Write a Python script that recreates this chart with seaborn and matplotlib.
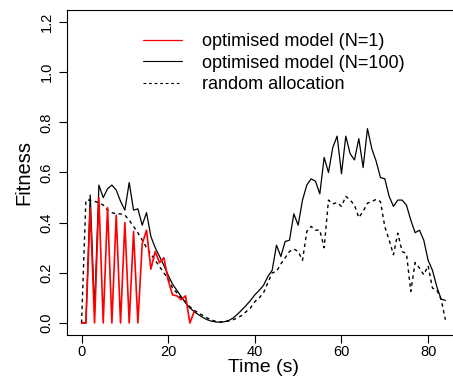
import numpy as np
import pandas as pd
import matplotlib
matplotlib.use("Agg")
import matplotlib.pyplot as plt
import seaborn as sns
from matplotlib.lines import Line2D

# Datos (paso de 1 s)
time_opt1 = list(range(0, 27))
fitness_opt1 = [0.0, 0.0, 0.46, 0.0, 0.50, 0.0, 0.46, 0.0, 0.43, 0.0, 0.40, 0.0,
                0.365, 0.0, 0.315, 0.37, 0.215, 0.285, 0.24, 0.26, 0.17, 0.112,
                0.108, 0.093, 0.108, 0.0, 0.045]

time_all = list(range(0, 85))
fitness_opt100 = [0.0, 0.0, 0.51, 0.05, 0.55, 0.50, 0.535, 0.55, 0.53, 0.485,
                  0.45, 0.56, 0.45, 0.455, 0.39, 0.44, 0.345, 0.30, 0.265, 0.23,
                  0.19, 0.155, 0.13, 0.105, 0.08, 0.06, 0.045, 0.033, 0.022, 0.013,
                  0.007, 0.004, 0.003, 0.005, 0.01, 0.02, 0.035, 0.052, 0.07, 0.09,
                  0.112, 0.13, 0.15, 0.185, 0.21, 0.31, 0.265, 0.325, 0.33, 0.435,
                  0.39, 0.49, 0.55, 0.575, 0.565, 0.515, 0.66, 0.60, 0.70, 0.745,
                  0.595, 0.745, 0.675, 0.65, 0.735, 0.62, 0.775, 0.695, 0.645, 0.58,
                  0.575, 0.505, 0.465, 0.49, 0.49, 0.47, 0.41, 0.36, 0.37, 0.33,
                  0.25, 0.21, 0.145, 0.095, 0.09]
fitness_random = [0.0, 0.49, 0.49, 0.485, 0.48, 0.47, 0.45, 0.44, 0.435, 0.435,
                  0.43, 0.41, 0.385, 0.36, 0.33, 0.30, 0.275, 0.25, 0.225, 0.20,
                  0.175, 0.14, 0.12, 0.10, 0.085, 0.065, 0.05, 0.04, 0.03, 0.02,
                  0.012, 0.006, 0.004, 0.005, 0.008, 0.013, 0.02, 0.03, 0.045, 0.06,
                  0.085, 0.10, 0.12, 0.16, 0.20, 0.205, 0.235, 0.26, 0.285, 0.295,
                  0.285, 0.25, 0.365, 0.385, 0.37, 0.37, 0.30, 0.49, 0.475, 0.48,
                  0.465, 0.505, 0.49, 0.47, 0.42, 0.445, 0.478, 0.484, 0.493, 0.484,
                  0.384, 0.331, 0.272, 0.358, 0.285, 0.276, 0.126, 0.241, 0.219, 0.192,
                  0.228, 0.139, 0.132, 0.093, 0.013]

labels = ['optimised model (N=1)', 'optimised model (N=100)', 'random allocation']
xticks = [0, 20, 40, 60, 80]
yticks = [0.0, 0.2, 0.4, 0.6, 0.8, 1.0, 1.2]

sns.set_style("ticks")
plt.rcParams['font.family'] = ['Liberation Sans', 'DejaVu Sans']
plt.rcParams.update({'text.color': 'black', 'axes.labelcolor': 'black',
                     'xtick.color': 'black', 'ytick.color': 'black'})

fig = plt.figure(figsize=(4.53, 3.76), dpi=100)
ax = fig.add_axes([67 / 453, 1 - 335 / 376, 393 / 453, 325 / 376])

df_rand = pd.DataFrame({'t': time_all, 'f': fitness_random})
df_100 = pd.DataFrame({'t': time_all, 'f': fitness_opt100})
df_1 = pd.DataFrame({'t': time_opt1, 'f': fitness_opt1})

sns.lineplot(data=df_rand, x='t', y='f', ax=ax, color='black', linewidth=1.0,
             linestyle=(0, (2.5, 2.5)))
sns.lineplot(data=df_100, x='t', y='f', ax=ax, color='black', linewidth=0.9)
sns.lineplot(data=df_1, x='t', y='f', ax=ax, color='#ff0000', linewidth=1.2)

ax.set_xlim(-3.36, 87.36)
ax.set_ylim(-0.048, 1.248)
ax.set_xticks(xticks)
ax.set_xticklabels([str(v) for v in xticks])
ax.set_yticks(yticks)
ax.set_yticklabels([f"{v:.1f}" for v in yticks], rotation=90, va='center')
ax.tick_params(axis='both', direction='out', length=5.5, width=0.8,
               labelsize=10.5, colors='black')
ax.tick_params(axis='x', pad=1.5)
ax.tick_params(axis='y', pad=4)
for sp in ax.spines.values():
    sp.set_linewidth(0.8)
    sp.set_color('black')

ax.set_xlabel('Time (s)', fontsize=14)
ax.set_ylabel('Fitness', fontsize=14.5)
ax.xaxis.set_label_coords(0.5, -0.074)
ax.yaxis.set_label_coords(-0.085, 0.5)

handles = [Line2D([], [], color='#ff0000', linewidth=0.9),
           Line2D([], [], color='black', linewidth=0.8),
           Line2D([], [], color='black', linewidth=0.8, linestyle=(0, (2.5, 2.5)))]
fig.legend(handles, labels, loc='upper left', bbox_to_anchor=(143 / 453, 1 - 33 / 376),
           frameon=False, fontsize=13, handlelength=2.15, handletextpad=1.1,
           labelspacing=0.26, borderpad=0, borderaxespad=0)

fig.savefig('out.png', dpi=100)
